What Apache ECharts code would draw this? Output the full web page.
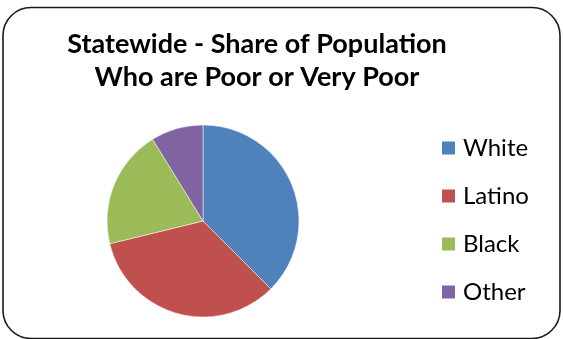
<!DOCTYPE html>
<html>
<head>
<meta charset="utf-8">
<style>
  html, body { margin: 0; padding: 0; background: #fff; }
  #chart { width: 563px; height: 339px; }
</style>
<script src="https://cdn.jsdelivr.net/npm/echarts@6/dist/echarts.min.js"></script>
</head>
<body>
<div id="chart"></div>
<script>
// Share of statewide population who are poor or very poor, by group (%)
const categories = ['White', 'Latino', 'Black', 'Other'];
const shares = [37.5, 33.7, 20.0, 8.8];
const colors = ['#4F81BD', '#C0504D', '#9BBB59', '#8064A2'];

const chart = echarts.init(document.getElementById('chart'), null, { renderer: 'canvas' });

const font = 'Lato, "Open Sans", sans-serif';

chart.setOption({
  animation: false,
  backgroundColor: '#ffffff',
  title: {
    text: 'Statewide - Share of Population\nWho are Poor or Very Poor',
    left: 257,
    textAlign: 'center',
    top: 28,
    padding: 0,
    textStyle: {
      fontFamily: font,
      fontWeight: 'bold',
      fontSize: 27,
      lineHeight: 33,
      color: '#000'
    }
  },
  legend: {
    orient: 'vertical',
    left: 440,
    top: 136,
    padding: 0,
    itemWidth: 15,
    itemHeight: 15,
    itemGap: 24,
    icon: 'rect',
    data: categories,
    textStyle: {
      fontFamily: font,
      fontSize: 24,
      color: '#000',
      padding: [0, 0, 0, 2]
    }
  },
  graphic: [{
    type: 'rect',
    shape: { x: 3, y: 7.5, width: 557, height: 331, r: 28 },
    style: { fill: 'none', stroke: '#1a1a1a', lineWidth: 1.6 },
    silent: true,
    z: 100
  }],
  series: [{
    type: 'pie',
    center: [203, 221],
    radius: 96,
    startAngle: 90,
    clockwise: true,
    label: { show: false },
    labelLine: { show: false },
    itemStyle: { borderColor: '#ffffff', borderWidth: 0.5 },
    data: categories.map((name, i) => ({
      name,
      value: shares[i],
      itemStyle: { color: colors[i] }
    }))
  }]
});
</script>
</body>
</html>
